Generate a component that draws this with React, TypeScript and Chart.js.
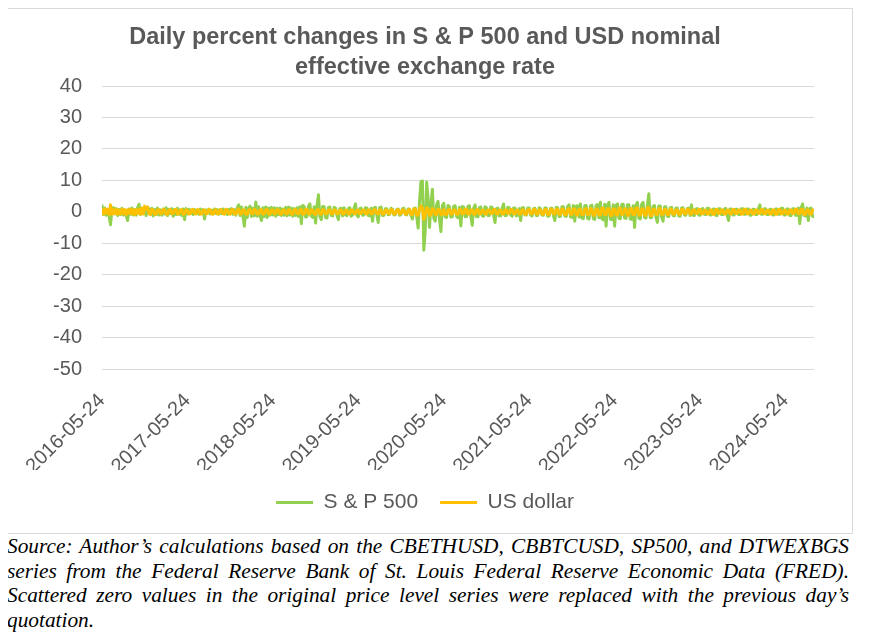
import React, { useEffect, useRef } from 'react';
import { Chart, registerables } from 'chart.js';

Chart.register(...registerables);

const TITLE_LINES = ['Daily percent changes in S & P 500 and USD nominal', 'effective exchange rate'];
const SERIES_NAMES = ['S & P 500', 'US dollar'];
const TICK_LABELS = ['2016-05-24', '2017-05-24', '2018-05-24', '2019-05-24', '2020-05-24', '2021-05-24', '2022-05-24', '2023-05-24', '2024-05-24'];
// sample index of each yearly tick (about 60 samples per year)
const TICK_INDEX = [0, 60, 120, 180, 240, 300, 360, 420, 480];

const SP500 = [
  1.9, -0.9, 1.2, -1.1, 0.8, -1.4, -4.1, 0.9, 1.3, -0.7, 1.0, -1.2, 0.7, -0.9, 1.1, -1.0, 0.6, -1.3, -2.8, 0.9,
  -0.8, 1.2, -1.0, 0.7, -1.1, 1.3, 2.4, -0.9, 1.0, -0.6, 0.8, -1.2, 1.5, 0.9, -0.8, 1.1, -1.3, 0.7, -0.9, 1.2,
  -1.0, 0.6, -1.1, 0.9, -0.7, 1.3, -1.2, 0.8, -0.6, 1.0, -1.4, 0.7, -0.9, 1.1, -0.8, 0.6, -1.2, 0.9, -2.5, 1.0,
  -0.7, 0.8, -0.5, 0.6, -0.9, 0.7, -0.6, 0.5, -0.8, 0.9, -0.6, 0.7, -2.3, 0.6, -0.5, 0.8, -0.7, 0.5, -0.6, 0.9,
  -0.5, 0.7, -0.8, 0.6, -0.6, 0.9, -0.7, 0.5, -0.9, 0.8, -0.6, 1.0, -0.8, 0.7, -1.1, 1.3, 2.2, -1.2, 1.5, -1.6,
  -4.6, 1.4, -1.8, 1.2, 1.8, -1.5, 1.1, -1.3, 3.1, -1.4, 1.6, -1.2, -2.8, 1.3, -1.5, 1.5, -1.8, 1.2, -1.1, 1.4,
  -1.0, 1.3, -1.4, 1.1, -0.9, 1.2, -1.2, 0.9, -1.1, 1.4, -1.3, 1.5, -1.0, 1.2, -1.4, 1.0, -1.2, 1.3, -1.5, 1.6,
  -3.8, 2.0, 1.6, -1.7, -1.5, 1.8, 2.5, -1.4, -1.8, 1.6, -3.6, 1.9, 5.4, -1.5, -2.5, 1.7, 1.6, -1.8, -2.0, 1.4,
  1.5, -1.2, -1.3, 1.4, 1.2, -1.1, -2.5, 1.0, 1.1, -1.3, 1.3, -1.0, -1.2, 1.1, 1.3, -1.4, -1.0, 1.2, 2.5, -1.1,
  -1.6, 1.0, 1.2, -1.1, -1.0, 1.3, 1.2, -1.2, -1.3, 1.1, -3.0, 1.2, 1.4, -1.0, -3.4, 1.3, 1.5, -1.2, -1.1, 1.0,
  1.0, -0.9, -0.8, 1.1, 0.8, -1.0, -0.9, 0.7, 0.9, -1.1, -0.8, 1.0, 1.1, -0.7, -1.0, 0.9, 0.8, -1.2, -2.3, 1.0,
  1.2, -1.5, -5.2, 3.5, 9.6, 9.8, -12.2, -6.0, 9.4, 4.0, -5.0, 2.5, 7.2, -2.0, -3.0, 2.2, 3.3, -2.5, -6.3, 2.0,
  2.7, -1.6, -1.8, 2.0, 1.6, -1.7, -1.6, 1.8, 1.9, -1.5, -1.9, 1.4, -4.5, 1.7, 1.5, -1.6, -1.5, 1.8, 1.9, -1.4,
  -4.3, 1.2, 2.2, -1.5, -1.6, 1.4, 1.5, -1.3, -1.4, 1.6, 1.3, -1.2, -1.2, 1.5, 1.4, -1.1, -3.4, 1.0, 1.2, -1.3,
  -1.3, 1.1, 2.5, -1.2, -1.2, 1.4, 1.3, -1.0, -1.4, 1.2, 1.2, -1.3, -1.1, 1.0, -2.8, 1.3, 1.3, -1.0, -1.0, 1.2,
  1.2, -1.1, -1.3, 1.0, 1.1, -1.2, -1.2, 1.3, 1.0, -1.0, -1.1, 1.2, 1.2, -1.4, -1.3, 1.1, 1.1, -1.2, -2.8, 1.4,
  1.3, -1.5, -1.4, 1.6, 1.6, -1.3, -1.5, 1.7, 2.2, -1.6, -1.8, 2.0, -3.0, 1.8, 1.9, -1.7, 2.5, -2.0, -2.2, 1.9,
  2.0, -2.1, -2.3, 1.8, 2.1, -2.2, -2.4, 2.0, 2.3, -1.9, 3.0, -2.2, -2.6, 2.4, -4.6, 2.1, 3.0, -2.3, -2.5, 2.2,
  -4.6, 2.0, 2.5, -2.1, -2.2, 2.3, 2.4, -2.0, -2.1, 2.2, 2.2, -2.3, -2.4, 1.9, -5.0, 2.1, 3.0, -2.0, -2.3, 2.4,
  3.0, -1.8, -2.0, 2.1, 5.7, -1.9, -1.8, 1.7, 2.0, -1.6, -3.4, 1.8, 1.8, -1.7, -3.0, 1.5, 1.6, -1.4, -1.5, 1.3,
  1.4, -1.2, -1.3, 1.1, 1.2, -1.3, -1.4, 1.2, 1.3, -1.0, -1.1, 1.0, 1.2, -1.2, 2.2, -1.1, -1.2, 0.9, 1.0, -1.0,
  -1.1, 0.9, 1.0, -0.8, -0.9, 1.1, 1.1, -1.0, -1.0, 0.8, 0.9, -1.1, -1.2, 1.0, 1.0, -0.9, -0.9, 0.8, 1.1, -1.0,
  -2.8, 0.9, 0.9, -1.0, -1.0, 0.8, 0.8, -0.9, -0.9, 1.0, 1.0, -0.8, -0.8, 0.9, 0.9, -1.1, -1.1, 0.8, 0.8, -0.9,
  -0.9, 1.0, 2.2, -0.8, -0.8, 1.0, 1.0, -0.9, -0.9, 0.8, 0.8, -1.0, -1.0, 0.9, 0.9, -0.8, -0.8, 1.1, 1.1, -1.0,
  -1.0, 0.9, 0.9, -1.2, -1.2, 1.0, 1.0, -1.1, -1.1, 1.2, -3.8, 1.3, 2.5, -1.2, -1.3, 1.2, -2.8, 1.0, 1.2, -1.4,
  -1.6,
];

const USD = [
  0.6, -0.7, 0.9, -0.5, 0.8, -0.9, 2.2, -0.8, 0.7, -0.6, 0.9, -0.8, 0.5, -0.7, 0.8, -0.6, 0.7, -0.9, 0.6, -0.5,
  0.8, -0.7, 0.6, -0.9, 0.7, -0.6, 0.9, -0.8, 1.2, -0.7, 1.8, 0.9, 1.5, -0.6, -0.9, 0.7, 0.6, -0.8, -0.7, 0.5,
  0.7, -0.6, -0.5, 0.8, 0.6, -0.7, -0.8, 0.5, 0.7, -0.6, -0.5, 0.6, 0.8, -0.7, -0.6, 0.5, 0.7, -0.8, -0.6, 0.6,
  0.5, -0.7, -0.6, 0.6, 0.8, -0.5, -0.7, 0.7, 0.5, -0.8, -0.6, 0.5, 0.6, -0.7, -0.5, 0.8, 0.6, -0.6, -0.8, 0.5,
  0.6, -0.7, -0.5, 0.7, 0.5, -0.6, -0.7, 0.8, 0.6, -0.5, -0.8, 0.6, 0.7, -0.6, -0.7, 0.5, 0.9, -0.7, -0.6, 0.6,
  0.5, -0.8, -0.7, 0.6, 0.7, -0.5, -0.6, 0.8, 0.5, -0.7, -0.6, 0.6, 0.7, -0.8, -0.5, 0.6, 0.8, -0.6, -0.7, 0.5,
  0.6, -0.6, -0.5, 0.7, 0.5, -0.8, -0.7, 0.6, 0.6, -0.5, -0.6, 0.7, 0.5, -0.7, -0.8, 0.6, 0.7, -0.5, -0.6, 0.6,
  0.7, -0.8, -0.6, 0.7, 0.8, -0.6, -0.7, 0.6, 0.5, -0.7, -0.9, 0.6, 0.7, -0.6, -0.8, 0.7, 0.5, -0.6, -0.5, 0.6,
  0.6, -0.5, -0.7, 0.6, 0.5, -0.6, -0.5, 0.4, 0.6, -0.7, -0.6, 0.5, 0.4, -0.6, -0.7, 0.6, 0.5, -0.5, -0.6, 0.5,
  0.5, -0.6, -0.4, 0.5, 0.6, -0.5, -0.7, 0.6, 0.5, -0.6, -0.5, 0.7, 0.6, -0.5, -0.7, 0.6, 0.5, -0.7, -0.6, 0.5,
  0.6, -0.5, -0.6, 0.7, 0.5, -0.7, -0.6, 0.5, 0.7, -0.6, -0.5, 0.6, 0.6, -0.8, -0.7, 0.5, 0.8, -0.9, -0.8, 0.9,
  0.9, -1.1, -1.0, 1.0, 1.9, 1.2, -2.4, -1.0, 1.3, 0.9, -1.2, -0.8, 1.0, 0.7, -0.9, -0.8, 0.8, 0.6, -1.0, -0.7,
  0.7, -0.8, -0.9, 0.6, 0.8, -0.7, -0.7, 0.6, 0.6, -0.8, -0.8, 0.7, 0.7, -0.6, -0.6, 0.8, 0.8, -0.7, -0.7, 0.6,
  0.6, -0.7, -0.8, 0.6, 0.7, -0.6, -0.6, 0.5, 0.5, -0.7, -0.7, 0.6, 0.6, -0.5, -0.5, 0.7, 0.7, -0.6, -0.6, 0.5,
  0.5, -0.6, -0.7, 0.6, 0.6, -0.5, -0.5, 0.7, 0.7, -0.6, -0.6, 0.5, 0.5, -0.7, -0.7, 0.6, 0.6, -0.8, -0.8, 0.6,
  0.7, -0.6, -0.6, 0.7, 0.8, -0.7, -0.7, 0.6, 0.6, -0.8, -0.8, 0.7, 0.7, -0.9, -0.9, 0.8, 0.8, -0.6, -0.7, 0.7,
  0.9, -0.8, -0.8, 0.9, 0.7, -0.9, -0.9, 0.8, 1.0, -0.8, -0.8, 0.9, 0.9, -1.0, -1.0, 0.8, 0.8, -0.9, -0.9, 0.8,
  1.0, -0.9, -0.9, 1.0, 0.8, -1.1, -1.1, 0.9, 0.9, -1.0, -1.0, 1.1, 1.1, -0.9, -0.9, 1.0, 1.0, -1.2, -1.2, 0.9,
  0.9, -1.0, -1.0, 1.1, 1.1, -0.8, -0.8, 0.9, 0.9, -1.1, -1.1, 1.0, 1.0, -0.9, -0.9, 1.2, 1.2, -1.0, -1.0, 0.9,
  0.9, -1.1, -1.1, 1.3, 1.3, -1.2, -1.2, 0.8, 0.8, -0.9, -0.9, 1.0, 1.0, -0.8, -0.8, 0.7, 0.7, -0.9, -0.9, 0.8,
  0.8, -0.7, -0.7, 0.6, 0.6, -0.8, -0.8, 0.7, 0.7, -0.6, -0.6, 0.8, 0.8, -0.7, -0.7, 0.6, 0.6, -0.5, -0.5, 0.7,
  0.7, -0.6, -0.6, 0.5, 0.5, -0.7, -0.7, 0.6, 0.6, -0.8, -0.8, 0.7, 0.7, -0.5, -0.5, 0.6, 0.6, -0.7, -0.7, 0.5,
  0.5, -0.6, -0.6, 0.7, 0.7, -0.5, -0.5, 0.6, 0.6, -0.7, -0.7, 0.8, 0.8, -0.6, -0.6, 0.5, 0.5, -0.7, -0.7, 0.6,
  0.6, -0.5, -0.5, 0.7, 0.7, -0.6, -0.6, 0.5, 0.5, -0.7, -0.7, 0.6, 0.6, -0.8, -0.8, 0.7, 0.7, -0.6, -0.6, 0.5,
  0.5, -0.7, -0.7, 0.6, 0.6, -0.5, -0.5, 0.8, 0.8, -0.6, -0.6, 0.7, 0.7, -0.9, -0.9, 0.6, 0.6, -0.7, -0.7, 0.6,
  0.6,
];

const CAPTION_LINES = [
  'Source: Author\u2019s calculations based on the CBETHUSD, CBBTCUSD, SP500, and DTWEXBGS',
  'series from the Federal Reserve Bank of St. Louis Federal Reserve Economic Data (FRED).',
  'Scattered zero values in the original price level series were replaced with the previous day\u2019s',
  'quotation.',
];

const GRAY = '#595959';
const SANS = '"Liberation Sans", Arial, sans-serif';

export default function App() {
  const ref = useRef<HTMLCanvasElement | null>(null);

  useEffect(() => {
    if (!ref.current) return;
    const toPts = (arr: number[]) => arr.map((y, i) => ({ x: i, y }));
    const chart = new Chart(ref.current, {
      type: 'line',
      data: {
        datasets: [
          {
            label: SERIES_NAMES[0],
            data: toPts(SP500),
            borderColor: '#92D050',
            backgroundColor: '#92D050',
            borderWidth: 3,
            pointRadius: 0,
            borderJoinStyle: 'round',
            borderCapStyle: 'round',
            order: 1,
          },
          {
            label: SERIES_NAMES[1],
            data: toPts(USD),
            borderColor: '#FFC000',
            backgroundColor: '#FFC000',
            borderWidth: 3,
            pointRadius: 0,
            borderJoinStyle: 'round',
            borderCapStyle: 'round',
            order: 0,
          },
        ],
      },
      options: {
        responsive: false,
        animation: false,
        events: [],
        layout: { padding: { left: 28, right: 38, top: 0, bottom: 10 } },
        plugins: {
          tooltip: { enabled: false },
          title: {
            display: true,
            text: TITLE_LINES,
            color: GRAY,
            font: { family: SANS, size: 23.5, weight: 'bold', lineHeight: 30 / 23.5 },
            padding: { top: 14, bottom: 3 },
          },
          legend: {
            position: 'bottom',
            labels: {
              color: GRAY,
              font: { family: SANS, size: 21 },
              usePointStyle: true,
              pointStyle: 'line',
              pointStyleWidth: 37,
              padding: 22,
              sort: (a: any, b: any) => a.datasetIndex - b.datasetIndex,
            },
          },
        },
        scales: {
          x: {
            type: 'linear',
            min: 0,
            max: SP500.length - 1,
            grid: { display: false },
            border: { display: false },
            afterBuildTicks: (scale: any) => {
              scale.ticks = TICK_INDEX.map((v) => ({ value: v }));
            },
            afterFit: (scale: any) => {
              scale.height = 101;
            },
            ticks: {
              autoSkip: false,
              minRotation: 45,
              maxRotation: 45,
              padding: 12,
              color: GRAY,
              font: { family: SANS, size: 20 },
              callback: (v: any) => {
                const k = TICK_INDEX.indexOf(Number(v));
                return k >= 0 ? TICK_LABELS[k] : '';
              },
            },
          },
          y: {
            min: -50,
            max: 40,
            grid: { color: '#D9D9D9', lineWidth: 1, drawTicks: false },
            border: { display: false },
            afterFit: (scale: any) => {
              scale.width = 66;
            },
            ticks: {
              stepSize: 10,
              padding: 20,
              color: GRAY,
              font: { family: SANS, size: 20 },
            },
          },
        },
      },
    } as any);
    return () => chart.destroy();
  }, []);

  return (
    <div style={{ position: 'relative', marginLeft: -1, width: 846 }}>
      <div
        style={{
          width: 846,
          height: 526,
          border: '1px solid #D9D9D9',
          boxSizing: 'border-box',
          background: '#fff',
        }}
      >
        <canvas ref={ref} width={844} height={524} style={{ display: 'block', width: 844, height: 524 }} />
      </div>
      <div
        style={{
          width: 842,
          fontFamily: '"Liberation Serif", "Times New Roman", serif',
          fontStyle: 'italic',
          fontSize: 21.33,
          lineHeight: '24.5px',
          color: '#000',
        }}
      >
        {CAPTION_LINES.map((line, i) => (
          <div
            key={i}
            style={{
              whiteSpace: 'nowrap',
              textAlign: i < CAPTION_LINES.length - 1 ? 'justify' : 'left',
              textAlignLast: i < CAPTION_LINES.length - 1 ? 'justify' : 'left',
            } as any}
          >
            {line}
          </div>
        ))}
      </div>
    </div>
  );
}
